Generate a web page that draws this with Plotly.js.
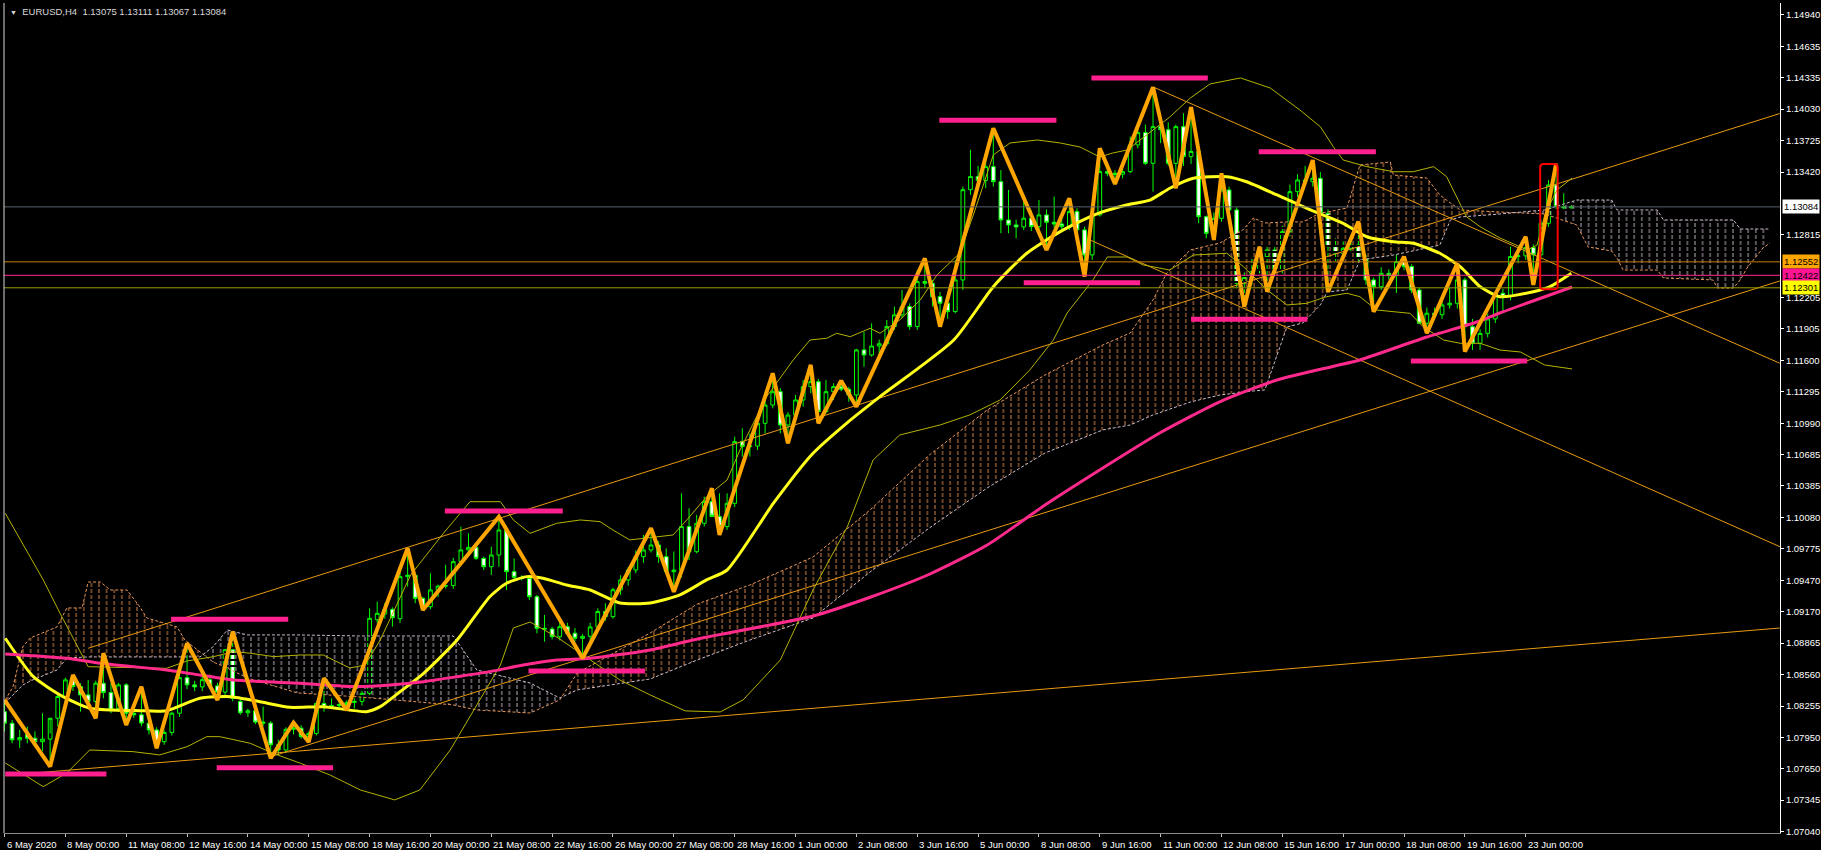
<!DOCTYPE html>
<html>
<head>
<meta charset="utf-8">
<script src="https://cdn.plot.ly/plotly-3.0.1.min.js"></script>
<style>
html,body{margin:0;padding:0;background:#000;}
#chart{width:1821px;height:850px;}
</style>
</head>
<body>
<div id="chart"></div>
<script>
// ---------------- DATA (bar index = H4 bar number from 6 May 2020) ----------------
const candleOpen = [1.08200,1.08089,1.07928,1.07980,1.07944,1.07910,1.07935,1.08137,1.08347,1.08508,
1.08444,1.08363,1.08300,1.08476,1.08385,1.08230,1.08460,1.08186,1.08170,1.08090,
1.08024,1.07910,1.08000,1.08186,1.08530,1.08460,1.08440,1.08510,1.08450,1.08390,
1.08800,1.08300,1.08190,1.08210,1.08100,1.08090,1.07880,1.07830,1.08030,1.08040,
1.07960,1.07990,1.08280,1.08250,1.08260,1.08270,1.08290,1.08300,1.08378,1.09090,
1.09145,1.09190,1.09100,1.09507,1.09520,1.09297,1.09216,1.09378,1.09415,1.09420,
1.09652,1.09765,1.09790,1.09684,1.09603,1.09716,1.09958,1.09555,1.09500,1.09490,
1.09313,1.09007,1.09000,1.08926,1.09023,1.08960,1.08910,1.08930,1.09020,1.09170,
1.09120,1.09380,1.09475,1.09571,1.09700,1.09765,1.09813,1.09700,1.09555,1.09570,
1.09991,1.09748,1.10023,1.10233,1.10088,1.09991,1.10216,1.10813,1.10765,1.10770,
1.10990,1.11167,1.11296,1.10974,1.11070,1.11216,1.11345,1.11393,1.11103,1.11296,
1.11345,1.11320,1.11264,1.11700,1.11651,1.11738,1.11760,1.11926,1.12039,1.12119,
1.11926,1.12361,1.12345,1.12216,1.12152,1.12071,1.12377,1.13250,1.13377,1.13340,
1.13473,1.13328,1.12957,1.12909,1.12890,1.12974,1.12893,1.13006,1.12935,1.12918,
1.12893,1.13038,1.12861,1.12619,1.13006,1.13425,1.13409,1.13400,1.13425,1.13683,
1.13802,1.13505,1.13860,1.13830,1.13505,1.13860,1.13570,1.13619,1.12989,1.12828,
1.12973,1.13247,1.13054,1.12345,1.12400,1.12473,1.12602,1.12667,1.12473,1.12844,
1.13231,1.13344,1.13328,1.13360,1.13022,1.12699,1.12635,1.12683,1.12715,1.12586,
1.12377,1.12312,1.12441,1.12420,1.12554,1.12506,1.12280,1.11958,1.12055,1.12040,
1.12135,1.12151,1.12377,1.11925,1.11764,1.11860,1.12000,1.12248,1.12216,1.12603,
1.12610,1.12690,1.12620,1.12925,1.13296,1.13086,1.13075];
const candleHigh = [1.08314,1.08120,1.08024,1.08057,1.08010,1.08186,1.07990,1.08380,1.08530,1.08556,
1.08476,1.08508,1.08500,1.08766,1.08476,1.08480,1.08476,1.08260,1.08443,1.08120,
1.08050,1.08020,1.08200,1.08560,1.08862,1.08500,1.08540,1.08560,1.08480,1.08830,
1.08975,1.08320,1.08230,1.08240,1.08250,1.08110,1.07930,1.08050,1.08094,1.08070,
1.08010,1.08300,1.08524,1.08330,1.08300,1.08310,1.08330,1.08420,1.09200,1.09265,
1.09250,1.09210,1.09620,1.09781,1.09530,1.09310,1.09540,1.09430,1.09620,1.09690,
1.09990,1.09925,1.09830,1.09700,1.09797,1.10087,1.10000,1.09684,1.09520,1.09510,
1.09330,1.09136,1.09020,1.09088,1.09060,1.09010,1.08950,1.09060,1.09200,1.09250,
1.09400,1.09520,1.09600,1.09760,1.09910,1.09975,1.09850,1.09780,1.09750,1.10313,
1.10168,1.10104,1.10281,1.10362,1.10313,1.10313,1.10861,1.10942,1.10893,1.11022,
1.11296,1.11474,1.11330,1.11100,1.11264,1.11409,1.11555,1.11420,1.11409,1.11377,
1.11402,1.11340,1.11710,1.11877,1.11957,1.11800,1.11990,1.12119,1.12280,1.12150,
1.12474,1.12586,1.12377,1.12260,1.12180,1.12571,1.13280,1.13635,1.13480,1.13538,
1.13844,1.13440,1.13248,1.12960,1.13183,1.13050,1.13150,1.13060,1.13183,1.12990,
1.13167,1.13070,1.12893,1.13070,1.13650,1.13470,1.13440,1.13480,1.13764,1.13900,
1.13880,1.14241,1.13950,1.13900,1.13880,1.13990,1.14050,1.13650,1.13000,1.13030,
1.13409,1.13280,1.13080,1.12450,1.12600,1.12699,1.12700,1.12700,1.12900,1.13300,
1.13400,1.13480,1.13537,1.13420,1.13060,1.12780,1.12750,1.12760,1.12941,1.12620,
1.12400,1.12500,1.12480,1.12620,1.12602,1.12530,1.12300,1.12110,1.12110,1.12216,
1.12300,1.12538,1.12400,1.12000,1.11900,1.12050,1.12270,1.12290,1.12699,1.12699,
1.12795,1.12720,1.12960,1.13344,1.13505,1.13215,1.13111];
const candleLow = [1.08010,1.07895,1.07850,1.07895,1.07870,1.07820,1.07670,1.08057,1.08300,1.08400,
1.08200,1.08250,1.08137,1.08330,1.08186,1.08200,1.08072,1.08140,1.08060,1.07980,
1.07847,1.07880,1.07970,1.08150,1.08420,1.08400,1.08400,1.08420,1.08314,1.08360,
1.08300,1.08170,1.08150,1.08080,1.08060,1.07750,1.07780,1.07800,1.07980,1.07940,
1.07908,1.07970,1.08200,1.08230,1.08240,1.08217,1.08230,1.08260,1.08350,1.09055,
1.09100,1.09023,1.09060,1.09410,1.09250,1.09185,1.09190,1.09310,1.09390,1.09390,
1.09620,1.09732,1.09668,1.09571,1.09523,1.09603,1.09378,1.09475,1.09470,1.09281,
1.08958,1.08878,1.08900,1.08890,1.08950,1.08880,1.08717,1.08850,1.08990,1.09080,
1.09100,1.09330,1.09420,1.09540,1.09640,1.09740,1.09640,1.09540,1.09360,1.09500,
1.09668,1.09732,1.09991,1.10120,1.09910,1.09959,1.10180,1.10668,1.10668,1.10732,
1.10893,1.11135,1.10893,1.10797,1.11050,1.11151,1.11280,1.10990,1.11087,1.11216,
1.11300,1.11200,1.11151,1.11538,1.11635,1.11650,1.11740,1.11894,1.12010,1.11894,
1.11894,1.12300,1.12120,1.11925,1.12000,1.12055,1.12280,1.13200,1.13300,1.13264,
1.13280,1.12829,1.12829,1.12780,1.12860,1.12850,1.12860,1.12667,1.12880,1.12860,
1.12860,1.12830,1.12409,1.12571,1.12990,1.13380,1.13305,1.13360,1.13409,1.13650,
1.13490,1.13232,1.13700,1.13480,1.13264,1.13480,1.13500,1.12925,1.12780,1.12764,
1.12940,1.13000,1.12300,1.12118,1.12330,1.12440,1.12263,1.12430,1.12440,1.12800,
1.13180,1.13300,1.13280,1.12980,1.12263,1.12560,1.12580,1.12640,1.12550,1.12330,
1.12070,1.12280,1.12380,1.12250,1.12470,1.12250,1.11950,1.11861,1.11990,1.12000,
1.12100,1.12100,1.11683,1.11700,1.11700,1.11820,1.11960,1.12055,1.12180,1.12538,
1.12570,1.12329,1.12580,1.12890,1.13050,1.13054,1.13067];
const candleClose = [1.08089,1.07928,1.07950,1.07944,1.07910,1.07935,1.08137,1.08347,1.08508,1.08444,
1.08363,1.08300,1.08476,1.08385,1.08218,1.08460,1.08186,1.08170,1.08090,1.08024,
1.07910,1.08000,1.08186,1.08530,1.08460,1.08440,1.08510,1.08450,1.08390,1.08800,
1.08330,1.08190,1.08210,1.08100,1.08090,1.07880,1.07830,1.08030,1.08040,1.07960,
1.07990,1.08280,1.08250,1.08260,1.08270,1.08290,1.08300,1.08378,1.09104,1.09152,
1.09190,1.09110,1.09507,1.09520,1.09297,1.09216,1.09378,1.09415,1.09420,1.09652,
1.09765,1.09790,1.09684,1.09603,1.09716,1.09958,1.09555,1.09500,1.09490,1.09313,
1.09007,1.09000,1.08926,1.09023,1.08960,1.08910,1.08930,1.09020,1.09170,1.09120,
1.09380,1.09475,1.09571,1.09700,1.09765,1.09813,1.09700,1.09555,1.09570,1.09991,
1.09748,1.10023,1.10233,1.10088,1.09991,1.10216,1.10813,1.10765,1.10770,1.10990,
1.11167,1.11296,1.10974,1.11070,1.11216,1.11345,1.11393,1.11103,1.11296,1.11345,
1.11320,1.11264,1.11700,1.11651,1.11738,1.11760,1.11926,1.12039,1.12119,1.11926,
1.12361,1.12345,1.12216,1.12152,1.12071,1.12377,1.13250,1.13377,1.13340,1.13473,
1.13328,1.12957,1.12909,1.12890,1.12974,1.12893,1.13006,1.12935,1.12918,1.12893,
1.13038,1.12861,1.12619,1.13006,1.13425,1.13409,1.13400,1.13425,1.13683,1.13802,
1.13505,1.13860,1.13830,1.13505,1.13860,1.13570,1.13619,1.12989,1.12828,1.12973,
1.13247,1.13054,1.12345,1.12400,1.12473,1.12602,1.12667,1.12473,1.12844,1.13231,
1.13344,1.13328,1.13360,1.13022,1.12699,1.12635,1.12683,1.12715,1.12586,1.12377,
1.12312,1.12441,1.12420,1.12554,1.12506,1.12280,1.11958,1.12055,1.12040,1.12135,
1.12151,1.12377,1.11925,1.11764,1.11860,1.12000,1.12248,1.12216,1.12603,1.12610,
1.12690,1.12620,1.12925,1.13296,1.13086,1.13075,1.13084];

// Bollinger middle (thick yellow) and 200 MA (pink)
const maYellowIdx = [0.1,3.8,7.7,11.2,17.8,21.3,25.7,29.7,33.6,37.5,41.9,47.6,49.4,52.0,55.1,59.5,63.8,66.0,68.7,70.8,73.9,77.0,80.9,84.9,88.8,92.3,95.0,101.1,106.3,110.7,115.1,124.8,130.0,134.4,138.8,143.2,147.5,150.6,153.2,156.3,160.7,163.3,167.3,171.7,176.0,179.1,182.6,185.2,188.7,191.4,194.0,196.6,201.0,203.2,206.0];
const maYellowPx = [1.08911,1.08539,1.08346,1.08234,1.08210,1.08210,1.08330,1.08346,1.08297,1.08243,1.08249,1.08201,1.08249,1.08394,1.08572,1.08894,1.09313,1.09443,1.09507,1.09491,1.09426,1.09378,1.09252,1.09252,1.09330,1.09475,1.09571,1.10217,1.10700,1.10990,1.11248,1.11796,1.12312,1.12635,1.12844,1.13005,1.13102,1.13150,1.13264,1.13360,1.13376,1.13327,1.13199,1.13054,1.12925,1.12795,1.12747,1.12732,1.12635,1.12505,1.12312,1.12215,1.12263,1.12312,1.12441];
const maPinkIdx = [0.1,8.2,12.6,21.3,25.7,30.1,38.9,46.3,50.7,55.1,59.5,63.8,68.2,72.6,77.0,84.9,91.1,106.3,113.9,121.6,129.2,136.8,144.4,152.1,159.7,167.3,174.9,178.2,187.0,194.0,196.6,206.1];
const maPinkPx = [1.08759,1.08717,1.08669,1.08604,1.08556,1.08507,1.08475,1.08443,1.08459,1.08491,1.08539,1.08588,1.08652,1.08701,1.08717,1.08798,1.08904,1.09126,1.09310,1.09530,1.09813,1.10200,1.10558,1.10906,1.11196,1.11409,1.11545,1.11603,1.11825,1.11980,1.12057,1.12309];

// Bollinger bands
const bbUpIdx = [0.1,5.1,7.3,11.0,12.6,16.9,21.3,24.0,27.5,30.1,32.3,35.4,38.9,41.9,45.4,47.4,49.4,53.4,57.7,61.2,65.2,66.9,69.1,72.6,75.7,78.3,80.0,82.2,84.4,87.9,89.7,92.3,95.0,96.7,100.2,103.7,105.9,108.1,109.4,111.2,113.8,115.1,117.7,120.4,122.6,125.6,127.6,130.0,132.2,135.8,138.8,141.4,144.0,145.7,147.6,150.6,153.2,155.9,158.5,162.5,166.4,170.3,173.0,174.7,176.0,179.1,182.6,185.2,187.9,189.6,190.9,192.2,194.0,196.6,200.2,201.5,202.5,204.1,206.1];
const bbUpPx = [1.10120,1.09475,1.09153,1.08636,1.08633,1.08623,1.08620,1.08691,1.08733,1.08781,1.08766,1.08733,1.08749,1.08749,1.08623,1.08652,1.08894,1.09523,1.09926,1.10232,1.10232,1.10055,1.09926,1.10023,1.10055,1.10039,1.09958,1.09862,1.09878,1.09910,1.10055,1.10280,1.10442,1.10732,1.11248,1.11603,1.11796,1.11813,1.11861,1.11828,1.11909,1.11861,1.11990,1.12183,1.12425,1.12638,1.13054,1.13586,1.13702,1.13731,1.13702,1.13663,1.13566,1.13605,1.13634,1.13808,1.13953,1.14137,1.14273,1.14331,1.14234,1.14021,1.13859,1.13666,1.13537,1.13473,1.13424,1.13424,1.13473,1.13376,1.13182,1.12989,1.12892,1.12783,1.12667,1.12715,1.13005,1.13247,1.13363];
const bbLoIdx = [0.1,5.1,8.2,11.2,16.9,20.4,24.0,26.6,28.3,32.3,35.3,38.9,42.8,46.8,51.3,54.6,58.6,62.5,65.2,66.9,69.1,72.6,75.7,77.0,80.9,84.9,89.5,94.1,97.1,102.0,106.3,110.8,114.2,117.7,123.0,126.9,130.9,134.8,137.9,139.7,143.1,145.0,147.6,149.7,153.2,156.3,160.7,162.9,166.0,168.6,171.2,173.8,176.5,178.2,180.4,184.8,186.5,189.2,191.4,194.0,196.6,199.3,202.5,206.1];
const bbLoPx = [1.07705,1.07475,1.07608,1.07830,1.07814,1.07782,1.07862,1.07959,1.07959,1.07895,1.07798,1.07702,1.07588,1.07443,1.07347,1.07443,1.07830,1.08314,1.08652,1.09010,1.09068,1.08923,1.08769,1.08701,1.08507,1.08362,1.08208,1.08198,1.08314,1.08701,1.09378,1.09987,1.10635,1.10877,1.10974,1.11071,1.11216,1.11506,1.11796,1.12057,1.12377,1.12599,1.12599,1.12522,1.12473,1.12618,1.12635,1.12505,1.12280,1.12135,1.12151,1.12215,1.12248,1.12215,1.12086,1.12054,1.11925,1.11796,1.11764,1.11764,1.11699,1.11680,1.11554,1.11516];

// Ichimoku cloud spans (shifted 26 bars ahead)
const ichiIdx = [0.1,1.1,2.4,3.4,6.9,8.2,10.2,11.0,12.6,13.9,16.1,17.8,18.7,22.7,23.7,25.7,27.4,29.3,31.9,38.5,46.7,59.0,62.1,69.1,73.0,75.3,84.9,91.1,98.0,106.3,113.8,121.6,129.2,136.8,144.4,148.0,151.0,152.8,155.9,159.8,162.8,164.2,165.7,168.6,170.7,173.0,173.9,176.5,178.2,182.2,182.6,187.0,188.7,190.1,191.4,196.6,202.5,206.7,208.2,211.3,212.0,212.8,217.3,218.1,224.6,225.2,227.3,228.2,229.1,231.2,232.1];
const spanA = [1.08314,1.08440,1.08827,1.08914,1.09020,1.09204,1.09204,1.09455,1.09455,1.09378,1.09378,1.09214,1.09107,1.09020,1.08894,1.08778,1.08682,1.08623,1.08527,1.08382,1.08343,1.08266,1.08217,1.08188,1.08314,1.08575,1.08962,1.09243,1.09426,1.09697,1.10152,1.10684,1.11119,1.11458,1.11748,1.11864,1.12183,1.12444,1.12667,1.12735,1.12860,1.12976,1.12928,1.12938,1.12938,1.13025,1.13034,1.13073,1.13489,1.13518,1.13392,1.13363,1.13199,1.13121,1.13054,1.13034,1.13015,1.12909,1.12696,1.12657,1.12589,1.12473,1.12473,1.12396,1.12377,1.12299,1.12299,1.12377,1.12493,1.12686,1.12735];
const spanB = [1.08285,1.08362,1.08459,1.08498,1.08604,1.08720,1.08730,1.08730,1.08730,1.08730,1.08730,1.08730,1.08730,1.08730,1.08730,1.08730,1.08827,1.08991,1.08943,1.08943,1.08933,1.08933,1.08604,1.08478,1.08333,1.08411,1.08517,1.08701,1.08894,1.09107,1.09552,1.09978,1.10365,1.10703,1.10926,1.10974,1.11071,1.11119,1.11196,1.11264,1.11293,1.11303,1.11313,1.11922,1.11961,1.12135,1.12261,1.12280,1.12570,1.12618,1.12618,1.12686,1.12715,1.12957,1.12986,1.13015,1.13054,1.13150,1.13150,1.13150,1.13054,1.13054,1.13054,1.12957,1.12957,1.12957,1.12957,1.12870,1.12870,1.12870,1.12870];

// ZigZag pivots
const zzIdx = [0,6,9,12,13,16,18,20,24,28,30,35,38,40,42,45,53,55,65,76,85,88,93,94,101,103,106,107,110,112,121,123,130,137,140,142,144,146,151,154,156,159,160,163,165,166,172,174,178,180,184,187,191,192,200,201,204];
const zzPx = [1.08314,1.07670,1.08556,1.08137,1.08766,1.08072,1.08443,1.07847,1.08862,1.08314,1.08975,1.07750,1.08094,1.07908,1.08524,1.08217,1.09781,1.09185,1.10087,1.08717,1.09975,1.09360,1.10362,1.09910,1.11474,1.10797,1.11555,1.10990,1.11402,1.11151,1.12586,1.11925,1.13844,1.12667,1.13167,1.12409,1.13650,1.13305,1.14241,1.13264,1.14050,1.12764,1.13409,1.12118,1.12699,1.12263,1.13537,1.12263,1.12941,1.12070,1.12602,1.11861,1.12538,1.11683,1.12795,1.12329,1.13505];

// Trend lines (start bar, start price, end bar, end price)
const trendI0 = [0.1, 34.9, 11.0, 151.1, 142.7];
const trendP0 = [1.07584, 1.07763, 1.08814, 1.14241, 1.12764];
const trendI1 = [233.4, 233.4, 233.4, 233.4, 233.4];
const trendP1 = [1.09010, 1.12367, 1.13987, 1.11571, 1.09797];

// Pink support / resistance marks
const levelI0 = [0.1, 21.9, 27.9, 57.9, 68.9, 122.9, 142.9, 134.0, 164.9, 156.0, 184.9];
const levelI1 = [13.4, 37.3, 43.2, 73.4, 84.2, 138.3, 158.2, 149.3, 180.3, 171.3, 200.2];
const levelPx = [1.07598, 1.09095, 1.07659, 1.10142, 1.08594, 1.13921, 1.14331, 1.12350, 1.13618, 1.11996, 1.11593];

// Horizontal price lines
const hLinePx = [1.13084, 1.12552, 1.12422, 1.12301];
const hLineLabel = ['1.13084', '1.12552', '1.12422', '1.12301'];

// Red box round the last breakout
const boxI = [201.9, 204.2];
const boxPx = [1.12287, 1.13499];

// Axes
const yTicks = [1.07040,1.07345,1.07650,1.07950,1.08255,1.08560,1.08865,1.09170,1.09470,1.09775,1.10080,1.10385,1.10685,1.10990,1.11295,1.11600,1.11905,1.12205,1.12815,1.13420,1.13725,1.14030,1.14335,1.14635,1.14940];
const xTickIdx = [0,8,16,24,32,40,48,56,64,72,80,88,96,104,112,120,128,136,144,152,160,168,176,184,192,200];
const xTickText = ['6 May 2020','8 May 00:00','11 May 08:00','12 May 16:00','14 May 00:00','15 May 08:00','18 May 16:00','20 May 00:00','21 May 08:00','22 May 16:00','26 May 00:00','27 May 08:00','28 May 16:00','1 Jun 00:00','2 Jun 08:00','3 Jun 16:00','5 Jun 00:00','8 Jun 08:00','9 Jun 16:00','11 Jun 00:00','12 Jun 08:00','15 Jun 16:00','17 Jun 00:00','18 Jun 08:00','19 Jun 16:00','23 Jun 00:00'];
const titleText = 'EURUSD,H4  1.13075 1.13111 1.13067 1.13084';

// ---------------- STYLE ----------------
const FONT = 'Liberation Sans, Arial, sans-serif';
const C = {
  sandy: 'rgba(232,145,80,0.85)', thistle: 'rgba(215,200,218,0.8)',
  sandyLine: '#e8955a', thistleLine: '#cdbccd',
  trend: '#e89a10', bb: '#b3b300', maY: '#ffff1a', maP: '#ff2a8c',
  zz: '#ffa500', level: '#ff1f8e'
};
const hLineColor = ['#56606b', '#c47a00', '#ff2d8f', '#9c9c00'];
const hLineBg = ['#ffffff', '#ffa500', '#ff1493', '#ffff00'];

// ---------------- BUILD ----------------
const traces = [];

function splitCloud(xs, a, b) {
  const runs = [];
  let cur = null;
  for (let i = 0; i < xs.length; i++) {
    const up = a[i] >= b[i];
    if (!cur) { cur = {up, x:[xs[i]], a:[a[i]], b:[b[i]]}; continue; }
    if (up !== cur.up) {
      const d0 = a[i-1]-b[i-1], d1 = a[i]-b[i];
      const t = d0/(d0-d1);
      const xc = xs[i-1] + t*(xs[i]-xs[i-1]);
      const yc = a[i-1] + t*(a[i]-a[i-1]);
      cur.x.push(xc); cur.a.push(yc); cur.b.push(yc);
      runs.push(cur);
      cur = {up, x:[xc], a:[yc], b:[yc]};
    }
    cur.x.push(xs[i]); cur.a.push(a[i]); cur.b.push(b[i]);
  }
  runs.push(cur);
  return runs;
}
const cloudRuns = splitCloud(ichiIdx, spanA, spanB);
cloudRuns.forEach(r => {
  const px = r.x.concat(r.x.slice().reverse());
  const py = r.a.concat(r.b.slice().reverse());
  traces.push({
    type:'scatter', mode:'lines', x:px, y:py,
    fill:'toself', fillcolor:'rgba(0,0,0,0)',
    fillpattern:{shape:'|', fgcolor: r.up ? C.sandy : C.thistle, bgcolor:'rgba(0,0,0,0)', size:7.6, solidity:0.14},
    line:{width:0}, hoverinfo:'skip'
  });
  // cut the hatching into short dashes like the terminal's dotted histogram
  traces.push({
    type:'scatter', mode:'lines', x:px, y:py,
    fill:'toself', fillcolor:'rgba(0,0,0,0)',
    fillpattern:{shape:'-', fgcolor:'#000000', bgcolor:'rgba(0,0,0,0)', size:6, solidity:0.34},
    line:{width:0}, hoverinfo:'skip'
  });
});
traces.push({type:'scatter', mode:'lines', x:ichiIdx, y:spanA, line:{color:C.sandyLine, width:1, dash:'3px,2px'}, hoverinfo:'skip'});
traces.push({type:'scatter', mode:'lines', x:ichiIdx, y:spanB, line:{color:C.thistleLine, width:1, dash:'3px,2px'}, hoverinfo:'skip'});

for (let k = 0; k < trendI0.length; k++) {
  traces.push({type:'scatter', mode:'lines', x:[trendI0[k], trendI1[k]], y:[trendP0[k], trendP1[k]],
    line:{color:C.trend, width:1}, hoverinfo:'skip'});
}

const barIdx = candleOpen.map((_, i) => i);
traces.push({
  type:'candlestick', x:barIdx, open:candleOpen, high:candleHigh, low:candleLow, close:candleClose,
  increasing:{line:{color:'#00ff00', width:1}, fillcolor:'#000000'},
  decreasing:{line:{color:'#00ff00', width:1}, fillcolor:'#ffffff'},
  whiskerwidth:0, hoverinfo:'skip'
});

traces.push({type:'scatter', mode:'lines', x:bbUpIdx, y:bbUpPx, line:{color:C.bb, width:1}, hoverinfo:'skip'});
traces.push({type:'scatter', mode:'lines', x:bbLoIdx, y:bbLoPx, line:{color:C.bb, width:1}, hoverinfo:'skip'});
traces.push({type:'scatter', mode:'lines', x:maYellowIdx, y:maYellowPx, line:{color:C.maY, width:3, shape:'spline', smoothing:0.6}, hoverinfo:'skip'});
traces.push({type:'scatter', mode:'lines', x:maPinkIdx, y:maPinkPx, line:{color:C.maP, width:3, shape:'spline', smoothing:0.6}, hoverinfo:'skip'});
traces.push({type:'scatter', mode:'lines', x:zzIdx, y:zzPx, line:{color:C.zz, width:4}, hoverinfo:'skip'});
for (let k = 0; k < levelPx.length; k++) {
  traces.push({type:'scatter', mode:'lines', x:[levelI0[k], levelI1[k]], y:[levelPx[k], levelPx[k]],
    line:{color:C.level, width:5}, hoverinfo:'skip'});
}

const shapes = [];
hLinePx.forEach((p, k) => {
  shapes.push({type:'line', xref:'paper', x0:0, x1:1, yref:'y', y0:p, y1:p, layer:'above',
    line:{color:hLineColor[k], width:1}});
});
// left frame
shapes.push({type:'line', xref:'paper', yref:'paper', x0:0, x1:0, y0:0, y1:1, line:{color:'#d8d8d8', width:1}});
// red rounded box
(function(){
  const x0 = boxI[0], x1 = boxI[1], y0 = boxPx[0], y1 = boxPx[1];
  const rx = 0.45, ry = 0.00035;
  const path = `M ${x0+rx},${y0} L ${x1-rx},${y0} Q ${x1},${y0} ${x1},${y0+ry} L ${x1},${y1-ry} Q ${x1},${y1} ${x1-rx},${y1} L ${x0+rx},${y1} Q ${x0},${y1} ${x0},${y1-ry} L ${x0},${y0+ry} Q ${x0},${y0} ${x0+rx},${y0} Z`;
  shapes.push({type:'path', xref:'x', yref:'y', path, line:{color:'#ff0000', width:2}, layer:'above'});
})();

const annotations = [];
xTickIdx.forEach((v, k) => {
  annotations.push({xref:'x', yref:'paper', x:v, y:0, xanchor:'left', yanchor:'middle', yshift:-11, xshift:0,
    text:xTickText[k], showarrow:false, font:{family:FONT, size:9.5, color:'#ffffff'}});
});
hLinePx.forEach((p, k) => {
  annotations.push({xref:'paper', yref:'y', x:1, y:p, xanchor:'left', yanchor:'middle', xshift:2,
    text:hLineLabel[k], showarrow:false, bgcolor:hLineBg[k], borderpad:1,
    font:{family:FONT, size:9.5, color:'#000000'}});
});
annotations.push({xref:'paper', yref:'paper', x:0, y:1, xanchor:'left', yanchor:'middle', xshift:4, yshift:-8,
  text:'<span style="font-size:7px">▼</span>  ' + titleText, showarrow:false,
  font:{family:FONT, size:9.5, color:'#d8d8d8'}});

const layout = {
  width:1821, height:850,
  margin:{l:4, r:41, t:3, b:17},
  paper_bgcolor:'#000000', plot_bgcolor:'#000000',
  showlegend:false, hovermode:false,
  boxgap:0.3,
  xaxis:{range:[-0.066, 233.43], showgrid:false, zeroline:false, rangeslider:{visible:false},
    tickmode:'array', tickvals:xTickIdx, showticklabels:false, ticks:'outside', ticklen:3,
    tickcolor:'#c0c0c0', showline:true, linecolor:'#8a8a8a', linewidth:1, fixedrange:true},
  yaxis:{range:[1.07027, 1.15056], side:'right', showgrid:false, zeroline:false,
    tickmode:'array', tickvals:yTicks, ticktext:yTicks.map(v => v.toFixed(5)),
    ticks:'outside', ticklen:3, tickcolor:'#ffffff', showline:true, linecolor:'#ffffff', linewidth:1,
    tickfont:{family:FONT, size:9.5, color:'#ffffff'}, fixedrange:true},
  shapes, annotations
};

Plotly.newPlot('chart', traces, layout, {displayModeBar:false, staticPlot:true});
</script>
</body>
</html>
